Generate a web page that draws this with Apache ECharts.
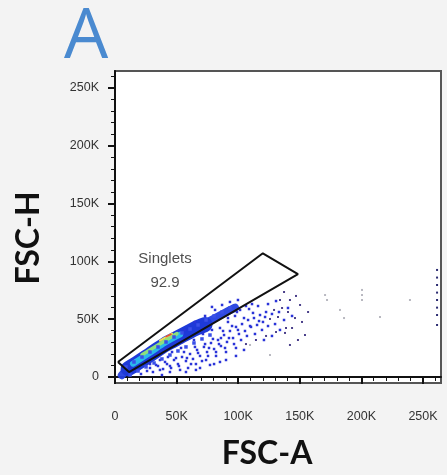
<!DOCTYPE html>
<html><head><meta charset="utf-8">
<script src="https://cdn.jsdelivr.net/npm/echarts@6/dist/echarts.min.js"></script>
<style>html,body{margin:0;padding:0;background:#f3f3f3}#c{width:447px;height:475px}</style>
</head><body><div id="c"></div>
<script>
// values in thousands (K) of FSC units
const majorTicks = [0, 50, 100, 150, 200, 250];
const tickLabels = ['0', '50K', '100K', '150K', '200K', '250K'];
const minorTicks = [10,20,30,40,60,70,80,90,110,120,130,140,160,170,180,190,210,220,230,240,260];

const gateVertices = [[2.4,13],[120,107],[148.5,89],[11.4,4.3],[2.4,13]];
const gateName = 'Singlets';
const gatePercent = '92.9';
const gateLabelPos = [40.6, 92];

// density ridge of the singlet population (FSC-A, FSC-H)
const ridgeWide = [[10.6,7.2],[16.2,10.7],[28.4,19.3],[40.6,28.0],[52.8,34.9],[64.9,41.8],[73.1,45.3]];
const ridgeThin = [[5.5,1.5],[10.6,7.2],[28.4,19.3],[52.8,34.9],[77.1,48.7],[89.3,55.6],[97.4,60.0]];
const ridgeCyan = [[14.6,11.5],[28.4,21.0],[40.6,29.7],[52.8,36.6]];
const ridgeGreen = [[21.9,19.3],[32.5,26.2],[44.6,34.0],[50.3,37.5]];
const ridgeYellow = [[36.5,31.4],[46.3,37.5]];
const ridgeRed = [[41.4,34.9],[45.5,37.0]];

const bandUpper = [[8.9,8.7],[15.4,13.0],[21.9,17.3],[28.4,21.6],[34.9,26.0],[41.4,30.3],[47.9,34.6],[54.4,38.1],[60.9,41.5],[67.4,45.0],[73.9,49.3],[80.4,52.8],[86.9,56.2],[93.3,59.7]];
const bandLower = [[12.2,1.7],[18.7,5.2],[25.2,8.7],[31.7,12.1],[38.1,15.6],[44.6,19.0],[51.1,22.5],[57.6,26.0],[64.1,29.4],[70.6,32.9],[77.1,36.3]];
const blueDots = [[28.4,7.8],[33.3,10.4],[36.5,6.1],[40.6,13.0],[44.6,9.5],[47.9,14.7],[51.1,11.2],[54.4,17.3],[57.6,13.8],[60.9,19.9],[63.3,15.6],[66.6,23.4],[69.0,18.2],[72.2,26.0],[74.7,21.6],[77.9,29.4],[80.4,24.2],[83.6,32.0],[86.0,26.8],[88.5,36.3],[90.9,30.3],[93.3,39.8],[95.8,33.7],[98.2,43.3],[100.6,37.2],[103.1,45.8],[105.5,39.8],[108.0,49.3],[110.4,43.3],[112.8,51.0],[115.3,45.0],[117.7,53.6],[120.1,47.6],[122.6,56.2],[59.3,7.8],[65.7,11.2],[73.9,14.7],[82.0,18.2],[90.1,21.6],[98.2,25.1],[101.5,58.0],[106.3,61.4],[111.2,63.1],[97.4,52.8],[91.7,47.6],[85.2,42.4],[78.7,40.7],[52.8,6.1],[44.6,4.3],[38.1,1.7],[69.0,7.8],[77.1,10.4],[85.2,13.0],
  [21.1,2.6],[26.0,5.2],[30.8,4.3],[34.9,9.5],[39.0,6.9],[42.2,11.2],[45.5,7.8],[49.5,16.4],[51.9,9.5],[56.0,21.6],[58.4,16.4],[61.7,11.2],[64.9,26.0],[67.4,20.8],[70.6,13.8],[73.1,28.5],[75.5,18.2],[79.5,32.9],[82.0,21.6],[84.4,28.5],[87.7,39.8],[89.3,25.1],[92.5,33.7],[95.0,44.1],[96.6,28.5],[99.8,40.7],[102.3,32.0],[104.7,51.0],[107.1,35.5],[109.6,44.1],[112.0,55.4],[113.6,37.2],[116.9,48.4],[119.3,40.7],[121.8,51.9],[124.2,44.1],[127.4,54.5],[129.9,45.8],[133.1,56.2],[137.2,49.3],[140.4,59.7],[143.7,52.8],[46.3,21.6],[53.6,25.1],[64.1,32.0],[71.4,37.2],[76.3,25.1],[86.0,33.7],[91.7,51.0],[99.0,56.2],[108.8,58.8],[116.1,61.4],[124.2,63.1],[130.7,65.7],[120.9,32.0],[127.4,35.5],[133.9,40.7],[104.7,23.4],[98.2,18.2],[90.1,14.7],[80.4,11.2],[65.7,6.1],[57.6,4.3],[28.4,11.2],[36.5,14.7],[43.0,17.3],
  [56.8,40.7],[64.9,47.6],[73.1,52.8],[81.2,58.0],[86.9,62.3],[93.3,64.9],[99.8,66.6],[78.7,60.6]];
const purpleDots = [[125.8,50.2],[129.1,58.0],[132.3,51.9],[135.6,59.7],[106.3,28.5],[114.4,32.0],[122.6,35.5],[130.7,38.9],[138.8,42.4],[137.2,73.5],[142.0,66.6],[146.9,70.1],[150.2,62.3],[140.4,56.2],[146.1,51.0],[151.8,47.6],[143.7,42.4],[154.2,36.3],[148.5,32.0],[142.0,27.7],[138.0,38.1],[156.7,56.2],[133.9,66.6]];
const grayDots = [[170.5,70.9],[172.1,66.6],[182.6,58.0],[185.9,51.0],[200.5,75.3],[200.5,70.9],[200.5,66.6],[215.1,51.9],[239.4,66.6],[109.6,27.7],[125.8,19.0]];
const edgeDots = [[261.4,92.6],[261.4,86.0],[261.4,79.6],[261.4,73.0],[261.4,66.6],[261.4,60.0],[261.4,53.6],[261.4,45.0]];

const chart = echarts.init(document.getElementById('c'), null, {renderer: 'canvas'});
const fmt = v => { const i = majorTicks.indexOf(v); return i >= 0 ? tickLabels[i] : ''; };
const lblStyle = {color: '#333', fontSize: 12.5, fontFamily: 'Liberation Sans, Arial, sans-serif'};

function dots(data, color, size, symbol, opacity) {
  return {type: 'scatter', data: data, symbol: symbol || 'rect', symbolSize: size,
    itemStyle: {color: color, opacity: opacity == null ? 1 : opacity}, silent: true, z: 3};
}
function ridge(data, color, width, opacity) {
  return {type: 'line', data: data, symbol: 'none', smooth: 0.3, silent: true, z: 3,
    lineStyle: {color: color, width: width, cap: 'round', join: 'round', opacity: opacity == null ? 1 : opacity}};
}

chart.setOption({
  animation: false,
  backgroundColor: '#f3f3f3',
  grid: {left: 115, top: 71, width: 326, height: 312, show: true, backgroundColor: '#ffffff', borderColor: '#555', borderWidth: 2},
  xAxis: [
    {type: 'value', min: 0, max: 264.6, splitLine: {show: false},
     axisLine: {lineStyle: {color: '#111', width: 2}},
     axisTick: {customValues: majorTicks, length: 7, lineStyle: {color: '#111', width: 2}},
     axisLabel: {customValues: majorTicks, formatter: fmt, margin: 27, ...lblStyle}},
    {type: 'value', min: 0, max: 264.6, position: 'bottom', splitLine: {show: false},
     axisLine: {show: false},
     axisTick: {customValues: minorTicks, length: 4, lineStyle: {color: '#111', width: 1}},
     axisLabel: {show: false}}
  ],
  yAxis: [
    {type: 'value', min: -5.2, max: 264.7, splitLine: {show: false},
     axisLine: {lineStyle: {color: '#111', width: 2}},
     axisTick: {customValues: majorTicks, length: 7, lineStyle: {color: '#111', width: 2}},
     axisLabel: {customValues: majorTicks, formatter: fmt, margin: 16, ...lblStyle}},
    {type: 'value', min: -5.2, max: 264.7, position: 'left', offset: 0, splitLine: {show: false},
     axisLine: {show: false},
     axisTick: {customValues: minorTicks, length: 4, lineStyle: {color: '#111', width: 1}},
     axisLabel: {show: false}}
  ],
  graphic: [
    {type: 'text', x: 64, y: 3, style: {text: 'A', fill: '#4a8ad0', font: '400 70px "Open Sans", sans-serif'}},
    {type: 'text', x: 267, y: 438, style: {text: 'FSC-A', fill: '#111', font: 'bold 32px Lato, sans-serif', textAlign: 'center'}},
    {type: 'text', x: 29, y: 238, rotation: Math.PI / 2,
     style: {text: 'FSC-H', fill: '#111', font: 'bold 32px Lato, sans-serif', textAlign: 'center', textVerticalAlign: 'middle'}}
  ],
  series: [
    dots(grayDots, '#b8b8c0', 2),
    dots(edgeDots, '#2a2a70', 2),
    dots(purpleDots, '#4a3f8a', 2),
    dots(blueDots, '#2a34d8', 2.5),
    dots(bandLower, '#3a50e8', 3.5),
    dots(bandUpper, '#3a50e8', 3.5),
    ridge(ridgeThin, '#2440e0', 8, 0.95),
    ridge(ridgeWide, '#1e3ad8', 15, 1),
    ridge(ridgeCyan, '#2ab8ec', 6, 1),
    ridge(ridgeGreen, '#8ee07c', 3.5, 1),
    ridge(ridgeYellow, '#f0e050', 2, 1),
    ridge(ridgeRed, '#e84a3a', 1.5, 1),
    {type: 'line', data: gateVertices, symbol: 'none', lineStyle: {color: '#111', width: 2}, silent: true, z: 4},
    {type: 'scatter', data: [gateLabelPos], symbolSize: 0, silent: true, z: 5,
     label: {show: true, position: 'inside', formatter: gateName + '\n' + gatePercent,
       color: '#222', fontSize: 15, lineHeight: 24, fontFamily: 'Liberation Sans, Arial, sans-serif'}}
  ]
});
</script></body></html>
